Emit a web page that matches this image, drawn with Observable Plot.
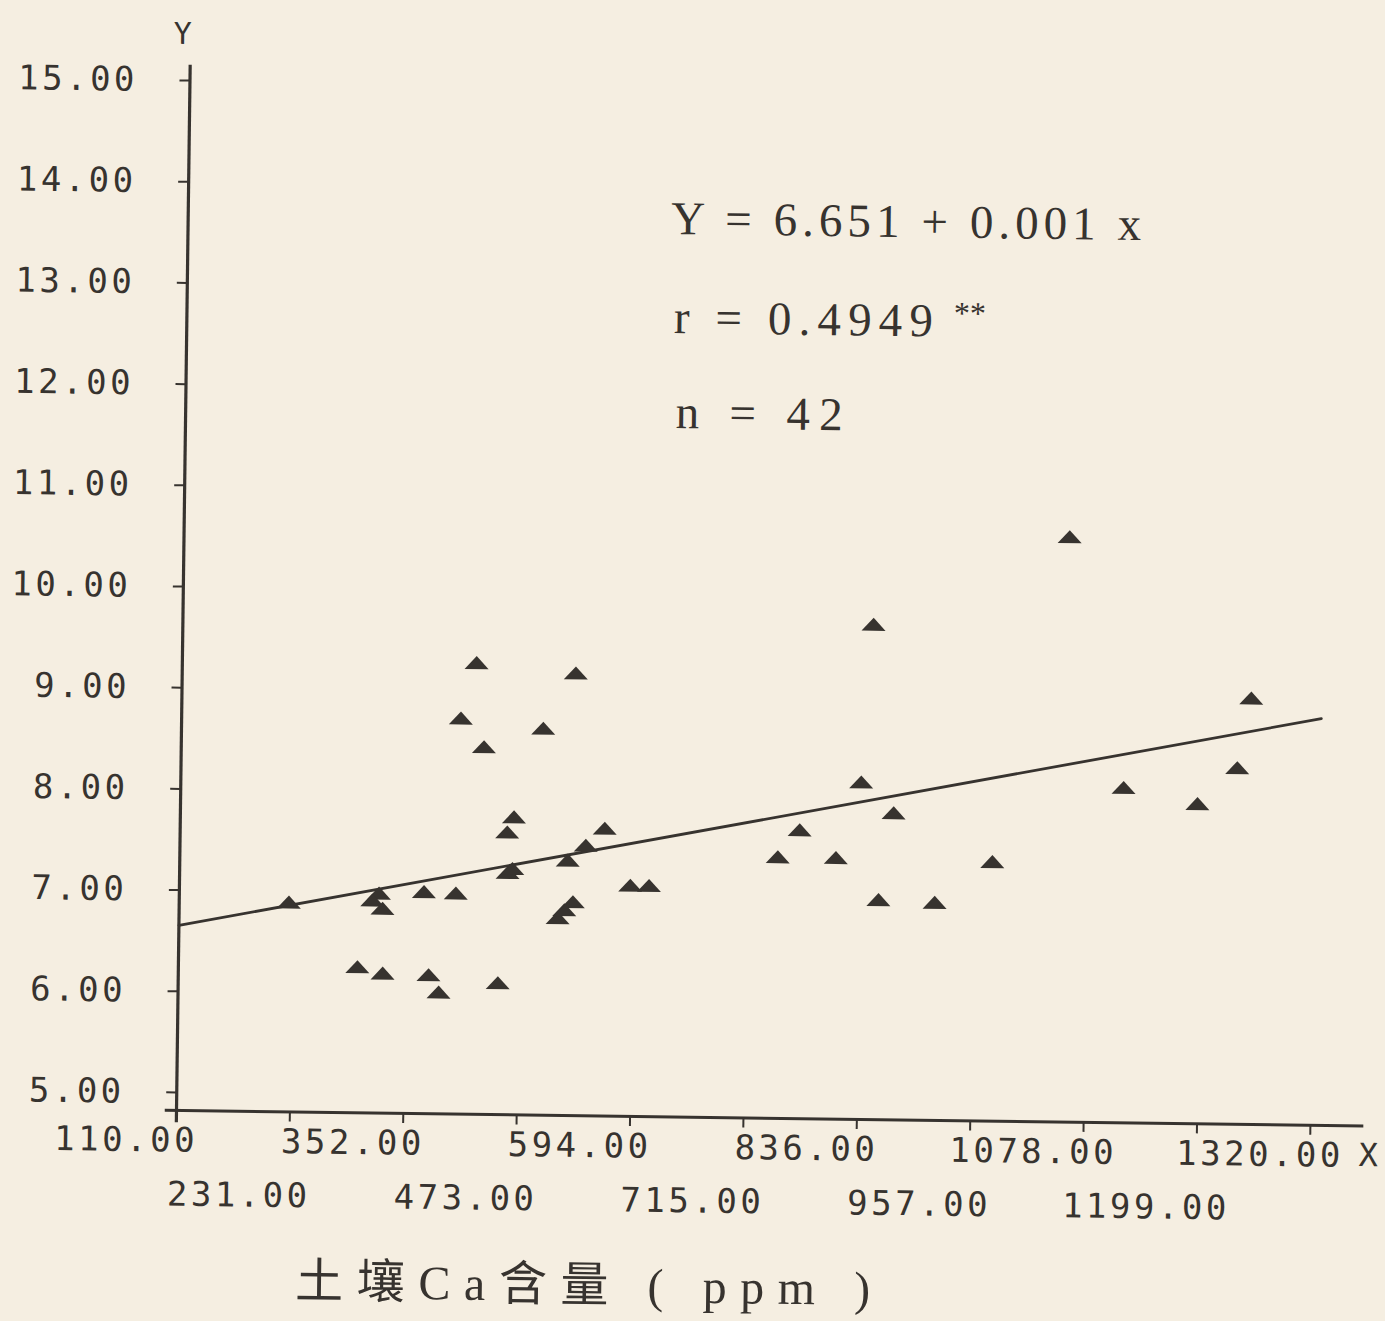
<!DOCTYPE html>
<html><head><meta charset="utf-8">
<script src="https://cdn.jsdelivr.net/npm/d3@7"></script>
<script src="https://cdn.jsdelivr.net/npm/@observablehq/plot@0.6"></script>
<style>
html,body{margin:0;padding:0;background:#f5eee1;}
#chart{width:1385px;height:1321px;overflow:hidden;}
#chart svg{display:block;transform:rotate(0.75deg);transform-origin:176px 1110px;}
#chart svg g[aria-label="x-axis tick label"] text,
#chart svg g[aria-label="y-axis tick label"] text{letter-spacing:3.5px;}
</style></head><body><div id="chart"></div>
<script>
// Soil Ca content (ppm) of each sample
const caPpm = [227, 301, 323, 327, 328, 371, 377, 388, 405, 408, 424, 433, 451, 459, 466, 460, 496, 514, 521, 530, 524, 530, 543, 563, 591, 611, 748, 771, 810, 836, 847, 856, 871, 916, 977, 1055, 1116, 1195, 1237, 1251, 316, 465];
// Y value of each sample
const yValue = [7.07, 6.44, 7.17, 7.02, 6.38, 7.19, 6.37, 6.20, 7.18, 8.91, 9.46, 8.63, 6.30, 7.79, 7.94, 7.39, 8.82, 6.95, 7.03, 7.11, 7.52, 9.37, 7.67, 7.84, 7.28, 7.28, 7.58, 7.85, 7.58, 8.33, 9.89, 7.17, 8.03, 7.15, 7.56, 10.78, 8.31, 8.16, 8.52, 9.21, 7.10, 7.43];
// regression line as drawn
const fitX = [110, 1326];
const fitY = [6.83, 9.02];
// axes
const xTicks = [110, 231, 352, 473, 594, 715, 836, 957, 1078, 1199, 1320];
const yTicks = [5, 6, 7, 8, 9, 10, 11, 12, 13, 14, 15];
const xAxisExtent = [98, 1377];
const yAxisExtent = [4.88, 15.33];
// texts
const xTitle = "土壤Ca含量 ( ppm )";
const yName = "Y";
const xName = "X";
const eqLines = ["Y = 6.651 + 0.001 x", "r = 0.4949", "n = 42"];
const sigMark = "**";

const ink = "#37332f";
const points = caPpm.map((x, i) => ({x, y: yValue[i]}));
const fit = fitX.map((x, i) => ({x, y: fitY[i]}));
const fmt = d3.format(".2f");
const tri = {draw(ctx) { ctx.moveTo(-12, 6); ctx.lineTo(0, -7); ctx.lineTo(12, 6); ctx.closePath(); }};
const mono = "'DejaVu Sans Mono', monospace";
const serif = "'Liberation Serif', 'Noto Sans CJK TC', serif";

const plot = Plot.plot({
  width: 1385, height: 1321,
  marginLeft: 176, marginRight: 75, marginTop: 98, marginBottom: 211,
  x: {domain: [110, 1320]},
  y: {domain: [5, 15]},
  style: {background: "transparent", fontFamily: mono, color: ink},
  marks: [
    Plot.ruleY([5], {x1: xAxisExtent[0], x2: xAxisExtent[1], stroke: ink, strokeWidth: 3}),
    Plot.ruleX([110], {y1: yAxisExtent[0], y2: yAxisExtent[1], stroke: ink, strokeWidth: 3.2}),
    Plot.axisY({ticks: yTicks, tickSize: 10, tickPadding: 42, tickFormat: fmt, dy: -18, fontSize: 34, label: null, stroke: ink, strokeWidth: 2, fill: ink}),
    Plot.axisX({ticks: xTicks, tickSize: 10, tickFormat: () => "", label: null, stroke: ink, strokeWidth: 2}),
    Plot.axisX({ticks: xTicks.filter((d, i) => i % 2 === 0), tickSize: 0, tickPadding: 17, dx: -50, tickFormat: fmt, fontSize: 34, label: null, fill: ink}),
    Plot.axisX({ticks: xTicks.filter((d, i) => i % 2 === 1), tickSize: 0, tickPadding: 71, dx: -50, tickFormat: fmt, fontSize: 34, label: null, fill: ink}),
    Plot.text([yName], {text: d => d, frameAnchor: "top-left", dx: -17, dy: -76, fontSize: 30, fill: ink}),
    Plot.text([xName], {text: d => d, frameAnchor: "bottom-right", dx: 68, dy: 40, fontSize: 32, fill: ink}),
    Plot.line(fit, {x: "x", y: "y", stroke: ink, strokeWidth: 2.8}),
    Plot.dot(points, {x: "x", y: "y", symbol: tri, r: 6, fill: ink, stroke: null}),
    Plot.text([eqLines[0]], {ariaDescription: "eq0", text: d => d, frameAnchor: "top-left", dx: 483, dy: 114, textAnchor: "start", lineAnchor: "middle", fontSize: 47, fontFamily: serif, fill: ink}),
    Plot.text([eqLines[1]], {ariaDescription: "eq1", text: d => d, frameAnchor: "top-left", dx: 487, dy: 213, textAnchor: "start", lineAnchor: "middle", fontSize: 47, fontFamily: serif, fill: ink}),
    Plot.text([eqLines[2]], {ariaDescription: "eq2", text: d => d, frameAnchor: "top-left", dx: 490, dy: 308, textAnchor: "start", lineAnchor: "middle", fontSize: 47, fontFamily: serif, fill: ink}),
    Plot.text([sigMark], {text: d => d, frameAnchor: "top-left", dx: 783, dy: 205, textAnchor: "middle", lineAnchor: "middle", fontSize: 32, fontFamily: serif, fill: ink}),
    Plot.text([xTitle], {ariaDescription: "xtitle", text: d => d, frameAnchor: "bottom-left", dx: 121, dy: 170, textAnchor: "start", lineAnchor: "middle", fontSize: 48, fontFamily: serif, fill: ink})
  ]
});
const widths = {eq0: 470, eq1: 259, eq2: 167, xtitle: 575};
for (const [k, w] of Object.entries(widths)) {
  plot.querySelectorAll(`g[aria-description="${k}"] text`).forEach(t => { t.setAttribute("textLength", w); t.setAttribute("lengthAdjust", "spacing"); });
}
document.getElementById("chart").appendChild(plot);
</script></body></html>
